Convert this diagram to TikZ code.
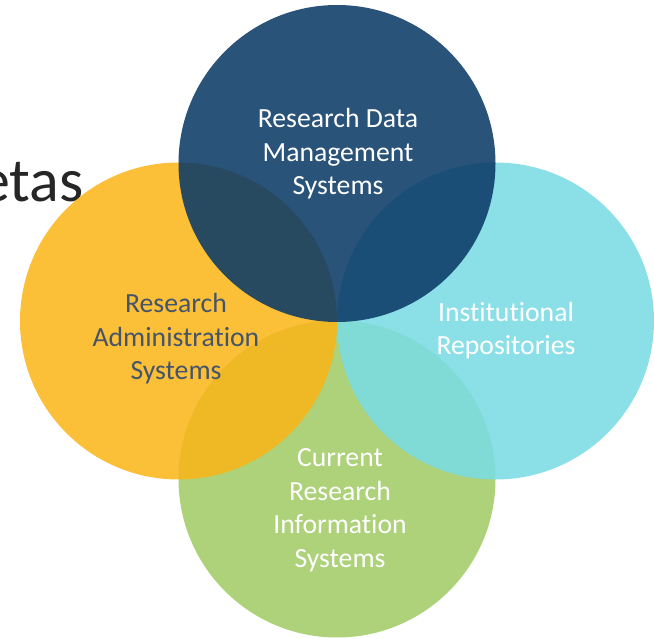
\documentclass[tikz,border=0pt]{standalone}
\usepackage{fontspec}
\setmainfont{Carlito}[Ligatures=NoCommon]
\definecolor{cblue}{RGB}{10,57,102}
\definecolor{corange}{RGB}{250,181,26}
\definecolor{ccyan}{RGB}{122,219,227}
\definecolor{cgreen}{RGB}{161,203,102}
\definecolor{cslate}{RGB}{68,84,106}
\definecolor{cdark}{RGB}{38,38,38}
\tikzset{
  venn/.style={circle, minimum size=317pt, inner sep=0pt, draw=none, fill opacity=0.87},
  lbl/.style={font=\fontsize{27.7}{33.5}\selectfont, align=center, anchor=base, inner sep=0pt},
}
\begin{document}
\begin{tikzpicture}[x=1pt,y=-1pt]
\useasboundingbox (0,0) rectangle (654,639);
\clip (0,0) rectangle (654,639);
\node[font=\fontsize{62}{70}\selectfont, text=cdark, anchor=base east, inner sep=0pt] (etas) at (84,202) {etas};
\node[venn, fill=cgreen] (cris) at (337,479) {};
\node[venn, fill=corange] (ras) at (178.5,321) {};
\node[venn, fill=ccyan] (ir) at (495.5,321) {};
\node[venn, fill=cblue] (rdm) at (337,163.5) {};
\node[lbl, text=white] (trdm) at (338,195) {Research Data\\Management\\Systems};
\node[lbl, text=cslate] (tras) at (176,380) {Research\\Administration\\Systems};
\node[lbl, text=white] (tir) at (506,355) {Institutional\\Repositories};
\node[lbl, text=white] (tcris) at (340,567) {Current\\Research\\Information\\Systems};
\end{tikzpicture}
\end{document}
